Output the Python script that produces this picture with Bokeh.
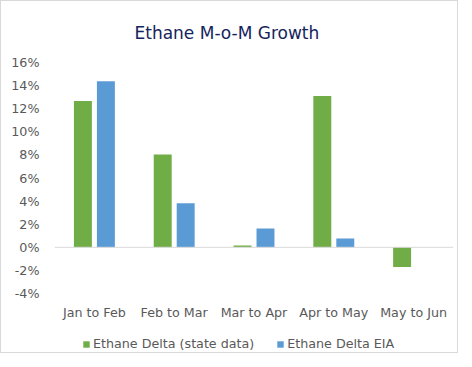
from bokeh.plotting import figure
from bokeh.layouts import column
from bokeh.models import ColumnDataSource, FactorRange, Range1d, FixedTicker, NumeralTickFormatter, Span, Legend, LegendItem
from bokeh.transform import dodge
from bokeh.embed import file_html
from bokeh.resources import INLINE

categories = ["Jan to Feb", "Feb to Mar", "Mar to Apr", "Apr to May", "May to Jun"]
state_data = [0.1267, 0.0803, 0.0015, 0.1310, -0.0171]
eia_data = [0.1438, 0.0382, 0.0162, 0.0077, 0.0]
y_ticks = [-0.04, -0.02, 0.0, 0.02, 0.04, 0.06, 0.08, 0.10, 0.12, 0.14, 0.16]
series_names = ["Ethane Delta (state data)", "Ethane Delta EIA"]
series_colors = ["#70AD47", "#5B9BD5"]

FONT = "DejaVu Sans"
GRAY = "#595959"
FS = "12.7px"

src = ColumnDataSource(dict(cat=categories, state=state_data, eia=eia_data))

p = figure(width=456, height=322, x_range=FactorRange(*categories), y_range=Range1d(-0.04, 0.16),
           output_backend="svg", toolbar_location=None,
           min_border_left=53, min_border_right=4, min_border_top=58, min_border_bottom=30)
p.outline_line_color = None
p.xgrid.grid_line_color = None
p.ygrid.grid_line_color = None

p.title.text = "Ethane M-o-M Growth"
p.title.align = "left"
p.title.offset = 80
p.title.standoff = 39
p.title.text_font = FONT
p.title.text_font_size = "17px"
p.title.text_font_style = "normal"
p.title.text_color = "#14245c"

p.vbar(x=dodge("cat", -0.144, range=p.x_range), top="state", width=0.225, source=src,
       fill_color=series_colors[0], line_color=None)
p.vbar(x=dodge("cat", 0.144, range=p.x_range), top="eia", width=0.225, source=src,
       fill_color=series_colors[1], line_color=None)

p.add_layout(Span(location=0, dimension="width", line_color="#d9d9d9", line_width=1))

p.yaxis.ticker = FixedTicker(ticks=y_ticks)
p.yaxis.formatter = NumeralTickFormatter(format="0%")
for ax in (p.xaxis[0], p.yaxis[0]):
    ax.axis_line_color = None
    ax.major_tick_line_color = None
    ax.minor_tick_line_color = None
    ax.major_label_text_font = FONT
    ax.major_label_text_font_size = FS
    ax.major_label_text_color = GRAY
p.yaxis.major_label_standoff = 9
p.xaxis.major_label_standoff = 5

# legend strip below the chart
lg = figure(width=456, height=29, x_range=Range1d(0, 1), y_range=Range1d(0, 1),
            output_backend="svg", toolbar_location=None, min_border=0,
            x_axis_location=None, y_axis_location=None)
lg.xgrid.grid_line_color = None
lg.ygrid.grid_line_color = None
lg.outline_line_color = None
items = []
for name, col in zip(series_names, series_colors):
    r = lg.vbar(x=[-10], top=[0], width=1, fill_color=col, line_color=None)
    items.append(LegendItem(label=name, renderers=[r]))
legend = Legend(items=items, orientation="horizontal", location=(28, 1))
legend.label_text_font = FONT
legend.label_text_font_size = FS
legend.label_text_color = GRAY
legend.glyph_width = 8
legend.glyph_height = 8
legend.spacing = 22
legend.label_standoff = 3
legend.padding = 0
legend.margin = 0
legend.border_line_color = None
legend.background_fill_alpha = 0
lg.add_layout(legend)

layout = column(p, lg, spacing=0)
layout.styles = {"border": "1px solid #d9d9d9", "box-sizing": "border-box"}

open("out.html", "w").write(file_html(layout, INLINE))
